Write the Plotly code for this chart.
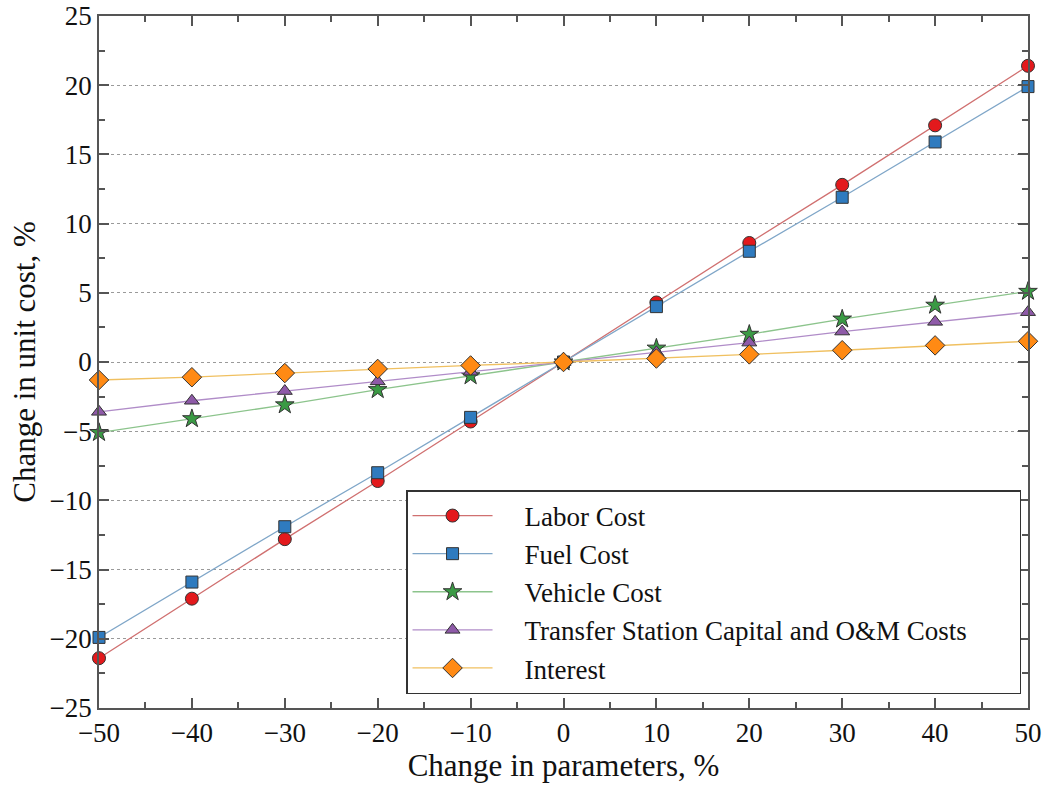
import plotly.graph_objects as go

x_vals = [-50, -40, -30, -20, -10, 0, 10, 20, 30, 40, 50]
x_labels = ["\u221250", "\u221240", "\u221230", "\u221220", "\u221210", "0", "10", "20", "30", "40", "50"]
y_ticks = [-25, -20, -15, -10, -5, 0, 5, 10, 15, 20, 25]
y_labels = ["\u221225", "\u221220", "\u221215", "\u221210", "\u22125", "0", "5", "10", "15", "20", "25"]

labor = [-21.4, -17.1, -12.8, -8.6, -4.3, 0, 4.3, 8.6, 12.8, 17.1, 21.4]
fuel = [-19.9, -15.9, -11.9, -8.0, -4.0, 0, 4.0, 8.0, 11.9, 15.9, 19.9]
vehicle = [-5.1, -4.1, -3.1, -2.0, -1.0, 0, 1.0, 2.0, 3.1, 4.1, 5.1]
transfer = [-3.6, -2.8, -2.1, -1.4, -0.7, 0, 0.7, 1.4, 2.2, 2.9, 3.6]
interest = [-1.3, -1.1, -0.8, -0.5, -0.25, 0, 0.25, 0.55, 0.85, 1.2, 1.5]

names = ["Labor Cost", "Fuel Cost", "Vehicle Cost",
         "Transfer Station Capital and O&M Costs", "Interest"]

series = [
    (names[0], labor, "#d07070", "#e3191c", "circle", 13),
    (names[1], fuel, "#7fa6c8", "#2f7bbf", "square", 12),
    (names[2], vehicle, "#8cc48c", "#3a9a44", "star", 14),
    (names[3], transfer, "#b08cc8", "#8e5aa8", "triangle-up", 13),
    (names[4], interest, "#f0c060", "#ff8a14", "diamond", 15),
]

pad_left = "\u2002\u2002"
fig = go.Figure()
for name, vals, lc, mc, sym, sz in series:
    label = pad_left + name + ("\u00a0" * 7 if name == names[3] else "")
    fig.add_trace(go.Scatter(
        x=x_vals, y=vals, name=label, mode="lines+markers",
        line=dict(color=lc, width=1.3),
        marker=dict(symbol=sym, size=sz, color=mc, line=dict(color="#333333", width=1)),
        cliponaxis=False,
    ))

font_family = "Liberation Serif, serif"
axis_common = dict(
    showline=True, linecolor="#555555", linewidth=1.5, mirror="ticks",
    ticks="inside", ticklen=10, tickwidth=1.5, tickcolor="#555555",
    tickfont=dict(family=font_family, size=27, color="#111111"),
    zeroline=False, automargin=False, ticklabeloverflow="allow",
)

fig.update_xaxes(
    **axis_common,
    range=[-50, 50], tickmode="array", tickvals=x_vals, ticktext=x_labels,
    minor=dict(ticks="inside", ticklen=6, tickwidth=1.5, tickcolor="#555555", dtick=5, showgrid=False),
    showgrid=False,
    title=dict(text="Change in parameters, %", font=dict(family=font_family, size=31, color="#111111"), standoff=7),
)
fig.update_yaxes(
    **axis_common,
    range=[-25, 25], tickmode="array", tickvals=y_ticks, ticktext=y_labels,
    minor=dict(ticks="inside", ticklen=6, tickwidth=1.5, tickcolor="#555555", dtick=2.5, showgrid=False),
    showgrid=True, gridcolor="#9a9a9a", griddash="dot", gridwidth=1,
    title=dict(text="Change in unit cost, %", font=dict(family=font_family, size=31, color="#111111"), standoff=5),
)

fig.update_layout(
    width=1043, height=791,
    margin=dict(l=99, r=15, t=16, b=83),
    plot_bgcolor="white", paper_bgcolor="white",
    legend=dict(
        x=0.3305, y=0.315, xanchor="left", yanchor="top",
        bgcolor="white", bordercolor="#333333", borderwidth=1.5,
        font=dict(family=font_family, size=27, color="#111111"),
        itemwidth=80, tracegroupgap=0,
    ),
    showlegend=True,
)

fig.write_html(
    "out.html",
    config={"displayModeBar": False},
    post_script="document.body.style.margin='0px';document.body.style.overflow='hidden';",
)
